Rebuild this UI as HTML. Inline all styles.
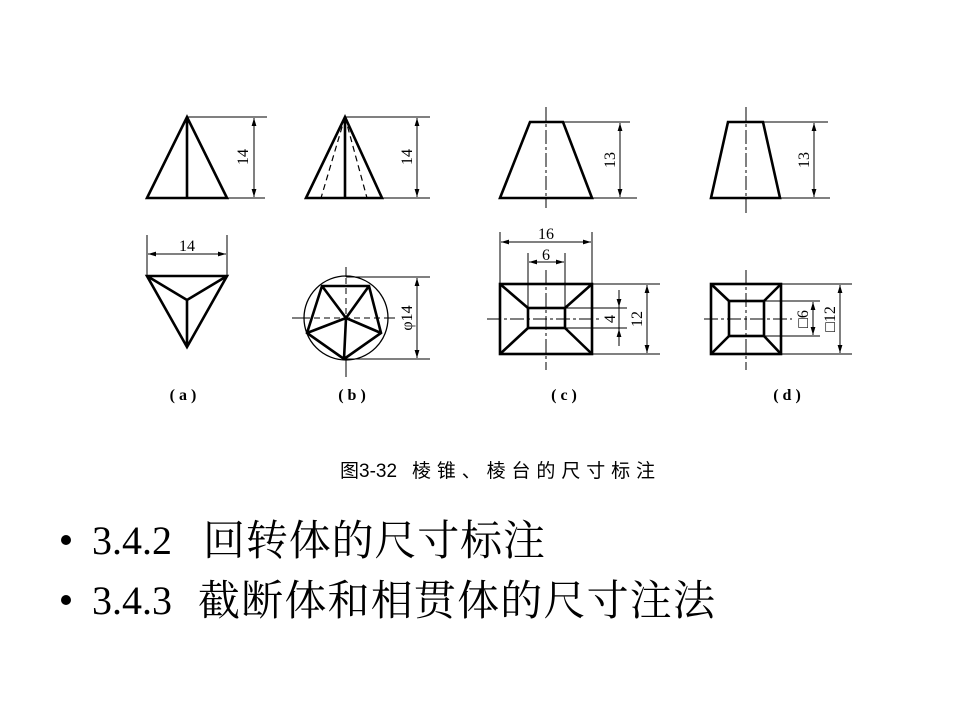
<!DOCTYPE html>
<html><head><meta charset="utf-8"><style>body{margin:0;background:#fff}svg{display:block}</style></head>
<body>
<svg width="960" height="720" viewBox="0 0 960 720" xmlns="http://www.w3.org/2000/svg" font-family="Liberation Serif, serif">
<defs>
<marker id="ar" viewBox="0 0 10 6" refX="10" refY="3" markerWidth="8" markerHeight="5" orient="auto-start-reverse" markerUnits="userSpaceOnUse"><path d="M0,0 L10,3 L0,6 z" fill="#000"/></marker>
</defs>
<g fill="none" stroke="#000">
<g stroke-width="2.6"><path d="M147,198 L187,117 L227,198 Z M187,117 V198"/></g>
<g stroke-width="1"><path d="M187,117 H267 M227,198 H265"/>
<line x1="254" y1="118" x2="254" y2="197" marker-start="url(#ar)" marker-end="url(#ar)"/></g>
<g stroke-width="2.6"><path d="M306,198 L345,117 L382,198 Z M345,117 V198"/></g>
<g stroke-width="1.2" stroke-dasharray="6,4"><path d="M345,117 L321,198 M345,117 L367,198"/></g>
<g stroke-width="1"><path d="M345,117 H430 M382,198 H430"/>
<line x1="417" y1="118" x2="417" y2="197" marker-start="url(#ar)" marker-end="url(#ar)"/></g>
<g stroke-width="2.6"><path d="M147,276 H227 L187,347 Z M147,276 L187,300 L227,276 M187,300 V347"/></g>
<g stroke-width="1"><path d="M147,235 V276 M227,235 V276"/>
<line x1="148" y1="254" x2="226" y2="254" marker-start="url(#ar)" marker-end="url(#ar)"/></g>
<circle cx="346" cy="318" r="42" stroke-width="1.3"/>
<g stroke-width="2.6"><path d="M322,286 L369,286 L381,333 L344,359 L307,333 Z M322,286 L346,318 L369,286 M346,318 L381,333 M346,318 L344,359 M346,318 L307,333"/></g>
<g stroke-width="1"><path d="M346,267 V277 M346,359 V377 M292,318 H304 M388,318 H395"/>
<path d="M346,278 V318 M304,318 H388" stroke-dasharray="6,4"/>
<path d="M346,277 H430 M344,359 H430"/>
<line x1="417" y1="278" x2="417" y2="358" marker-start="url(#ar)" marker-end="url(#ar)"/></g>
<g stroke-width="2.6"><path d="M530,122 H563 L592,198 H500 Z"/></g>
<g stroke-width="1"><path d="M546,107 V208" stroke-dasharray="14,3,3,3"/>
<path d="M563,122 H630 M592,198 H637"/>
<line x1="620" y1="123" x2="620" y2="197" marker-start="url(#ar)" marker-end="url(#ar)"/></g>
<g stroke-width="2.6"><path d="M728,122 H763 L780,198 H711 Z"/></g>
<g stroke-width="1"><path d="M746,107 V215" stroke-dasharray="14,3,3,3"/>
<path d="M763,122 H828 M780,198 H830"/>
<line x1="814" y1="123" x2="814" y2="197" marker-start="url(#ar)" marker-end="url(#ar)"/></g>
<g stroke-width="2.6"><rect x="500" y="284" width="92" height="70"/><rect x="528" y="308" width="37" height="20"/>
<path d="M500,284 L528,308 M592,284 L565,308 M500,354 L528,328 M592,354 L565,328"/></g>
<g stroke-width="1"><path d="M546,270 V370 M487,319 H600" stroke-dasharray="14,3,3,3"/>
<path d="M500,232 V284 M592,232 V284 M528,253 V308 M565,253 V308"/>
<line x1="501" y1="242" x2="591" y2="242" marker-start="url(#ar)" marker-end="url(#ar)"/>
<line x1="529" y1="262" x2="564" y2="262" marker-start="url(#ar)" marker-end="url(#ar)"/>
<path d="M592,284 H660 M592,354 H660 M565,308 H627 M565,328 H627"/>
<line x1="647" y1="285" x2="647" y2="353" marker-start="url(#ar)" marker-end="url(#ar)"/>
<line x1="619" y1="290" x2="619" y2="307" marker-end="url(#ar)"/>
<line x1="619" y1="346" x2="619" y2="329" marker-end="url(#ar)"/>
<path d="M619,290 V346"/></g>
<g stroke-width="2.6"><rect x="711" y="284" width="70" height="70"/><rect x="729" y="301" width="35" height="35"/>
<path d="M711,284 L729,301 M781,284 L764,301 M711,354 L729,336 M781,354 L764,336"/></g>
<g stroke-width="1"><path d="M746,270 V370 M704,319 H792" stroke-dasharray="14,3,3,3"/>
<path d="M781,284 H852 M781,354 H852 M764,301 H820 M764,336 H820"/>
<line x1="840" y1="285" x2="840" y2="353" marker-start="url(#ar)" marker-end="url(#ar)"/>
<line x1="813" y1="302" x2="813" y2="335" marker-start="url(#ar)" marker-end="url(#ar)"/></g>
</g>
<g font-size="16" fill="#000" text-anchor="middle">
<text transform="translate(248,157) rotate(-90)">14</text>
<text transform="translate(412,157) rotate(-90)">14</text>
<text transform="translate(615,160) rotate(-90)">13</text>
<text transform="translate(809,160) rotate(-90)">13</text>
<text x="187" y="251">14</text>
<text transform="translate(412,318) rotate(-90)">φ14</text>
<text x="546" y="239">16</text>
<text x="546" y="260">6</text>
<text transform="translate(615,319) rotate(-90)">4</text>
<text transform="translate(642,319) rotate(-90)">12</text>
<text transform="translate(808,319) rotate(-90)">□6</text>
<text transform="translate(835,319) rotate(-90)">□12</text>
<text x="183" y="400" font-weight="bold">( a )</text>
<text x="352" y="400" font-weight="bold">( b )</text>
<text x="564" y="400" font-weight="bold">( c )</text>
<text x="787" y="400" font-weight="bold">( d )</text>
</g>
<g font-size="19" font-family="Liberation Sans, Noto Sans CJK SC, sans-serif">
<text x="340" y="477">图3-32</text>
<text x="412" y="477" textLength="243">棱锥、棱台的尺寸标注</text>
</g>
<g font-size="42" font-family="Liberation Serif, Noto Serif CJK SC, serif" fill="#000">
<circle cx="66" cy="540" r="5"/>
<text x="92" y="554" font-size="40">3.4.2</text>
<text x="203" y="555" textLength="342">回转体的尺寸标注</text>
<circle cx="66" cy="600" r="5"/>
<text x="92" y="614" font-size="40">3.4.3</text>
<text x="198" y="615" textLength="517">截断体和相贯体的尺寸注法</text>
</g>
</svg>
</body></html>
